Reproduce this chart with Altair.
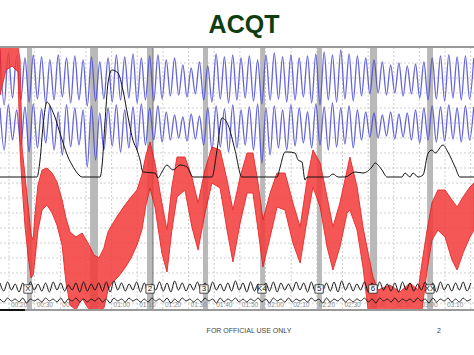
import altair as alt
import pandas as pd

# ---------------- data ----------------
title_text = "ACQT"
footer_text = "FOR OFFICIAL USE ONLY"
page_no = "2"

tick_times = [20, 30, 40, 50, 60, 70, 80, 90, 100, 110, 120, 130, 140, 150, 160, 170, 180, 190]
tick_labels = ["00:20", "00:30", "00:40", "00:50", "01:00", "01:10", "01:20", "01:30", "01:40",
               "01:50", "02:00", "02:10", "02:20", "02:30", "02:40", "02:50", "03:00", "03:10"]
grid_times = [20, 30, 40, 50, 60, 70, 80, 90, 100, 110, 120, 130, 140, 150, 160, 170, 180, 190, 200]
grid_levels = [63, 78, 93, 108, 123, 138, 153, 168, 183, 198, 213, 228, 243, 258, 273, 288, 303]

band_start = [27.0, 51.6, 73.8, 95.6, 117.9, 140.1, 160.7, 183.0]
band_end = [29.0, 54.7, 75.8, 97.6, 119.8, 142.0, 163.5, 185.3]
marker_times = [76.1]
question_times = [27.4, 75.0, 96.0, 118.6, 140.9, 161.9, 184.1]
question_labels = ["X", "2", "3", "K4", "5", "6", "XX"]

# pneumo (blue) traces: alternating peak / trough levels, one breath every 3.24 s
blue_t0 = 16.5
blue_half = 1.62
upper_peaks = [50, 53, 56, 58, 55, 57, 60, 55, 58, 56, 60, 57, 62, 58, 55, 57, 54, 58, 56, 55,
               60, 58, 65, 68, 62, 66, 54, 57, 55, 58, 56, 60, 55, 53, 57, 55, 58, 56, 54, 52,
               55, 50, 54, 56, 58, 60, 62, 65, 63, 66, 64, 62, 58, 56, 55, 57, 56, 58]
upper_troughs = [105, 98, 100, 102, 99, 104, 100, 97, 103, 100, 106, 101, 99, 102, 100, 98, 103, 100,
                 101, 99, 96, 95, 97, 94, 100, 102, 99, 103, 100, 98, 101, 104, 100, 99, 102, 100,
                 97, 103, 105, 100, 102, 99, 101, 96, 94, 93, 95, 93, 96, 94, 98, 100, 99, 101,
                 98, 100, 99]
lower_peaks = [108, 105, 110, 107, 104, 109, 106, 112, 105, 108, 110, 106, 113, 108, 105, 110, 107,
               104, 108, 106, 112, 115, 117, 114, 116, 108, 106, 109, 105, 110, 107, 104, 108, 106,
               110, 105, 108, 112, 104, 107, 103, 108, 106, 110, 112, 113, 115, 112, 114, 113, 110,
               108, 106, 107, 105, 108, 106, 107]
lower_troughs = [150, 140, 145, 152, 148, 143, 150, 155, 147, 145, 167, 160, 150, 146, 152, 148, 150,
                 145, 140, 142, 140, 138, 141, 139, 145, 150, 147, 152, 148, 145, 150, 163, 155, 148,
                 150, 146, 143, 148, 145, 150, 147, 144, 148, 140, 137, 138, 136, 139, 137, 140, 143,
                 140, 142, 141, 139, 142, 140]

# cardio (red) band: time, upper and lower edge
red_t = [16.5, 18.8, 21.2, 23.5, 24.3, 25.1, 26.2, 27.4, 28.6, 29.4, 30.1, 31.3, 32.9, 34.8, 36.8,
         38.7, 40.7, 42.2, 43.8, 46.1, 48.5, 50.8, 53.1, 55.1, 57.0, 58.6, 60.1, 62.5, 65.2, 67.6,
         69.9, 71.8, 73.4, 75.0, 76.9, 79.6, 81.6, 83.5, 85.5, 88.6, 91.3, 93.7, 96.4, 99.1, 102.3,
         105.0, 107.3, 110.1, 112.8, 115.1, 117.1, 119.0, 121.8, 124.5, 127.6, 130.7, 133.5, 136.2,
         138.5, 141.3, 144.0, 146.3, 149.0, 151.8, 152.9, 155.7, 158.0, 160.0, 161.9, 163.9, 168.5,
         172.4, 176.3, 179.5, 181.0, 183.0, 184.9, 187.2, 190.0, 192.7, 194.7, 197.0, 199.7, 201.3]
red_top = [47, 47, 47, 47, 60, 148, 175, 205, 235, 240, 215, 185, 170, 168, 173,
           182, 200, 218, 232, 237, 233, 243, 255, 258, 248, 232, 225, 215, 205, 197,
           190, 175, 155, 142, 163, 203, 230, 187, 157, 157, 177, 203, 170, 147, 150,
           180, 210, 177, 153, 153, 183, 220, 193, 173, 173, 203, 227, 180,
           150, 163, 197, 227, 203, 170, 157, 187, 227, 253, 277, 290, 285,
           292, 283, 290, 263, 230, 203, 190, 190, 200, 207, 197, 187, 183]
red_bottom = [95, 70, 66, 72, 150, 185, 225, 255, 278, 275, 260, 230, 210, 205, 213,
              225, 245, 282, 305, 310, 298, 308, 310, 310, 308, 290, 283, 277, 268, 258,
              245, 230, 205, 188, 207, 253, 272, 230, 197, 190, 227, 250, 213, 183, 188,
              230, 262, 223, 193, 193, 230, 267, 237, 207, 210, 243, 263, 220,
              187, 207, 247, 270, 247, 213, 210, 230, 267, 310, 310, 310, 310,
              310, 310, 310, 310, 270, 240, 230, 237, 260, 270, 253, 237, 230]

# electrodermal (black) trace
eda_t = [16.5, 30.9, 32.1, 33.3, 34.8, 36.4, 37.9, 39.5, 41.1, 43.0, 44.6, 46.9, 48.5, 55.5, 56.3,
         57.4, 58.6, 60.1, 62.5, 64.4, 66.4, 68.3, 69.9, 71.1, 72.2, 76.9, 78.1, 79.6, 81.6, 83.9,
         86.7, 89.4, 91.7, 99.1, 101.1, 103.0, 105.4, 108.1, 110.8, 124.5, 125.7, 127.6, 128.8,
         131.5, 132.7, 134.2, 135.4, 136.2, 144.4, 146.3, 148.3, 151.0, 154.9, 158.0, 161.5, 162.7,
         165.4, 167.4, 173.2, 174.4, 176.3, 177.5, 179.5, 181.4, 183.4, 184.9, 186.1, 189.2, 191.1,
         193.9, 195.8, 201.3]
eda_v = [177, 177, 160, 125, 102, 108, 117, 130, 143, 157, 165, 174, 177, 177, 165,
         123, 83, 70, 73, 90, 117, 140, 150, 160, 172, 173, 178, 172, 165, 170,
         165, 167, 177, 177, 150, 118, 125, 150, 177, 177, 167, 152, 152,
         153, 160, 162, 180, 177, 177, 174, 177, 177, 172, 173, 167, 163,
         170, 177, 177, 173, 177, 173, 177, 175, 153, 150, 153, 145, 152,
         167, 177, 177]

# two lower black traces: alternating peak / trough levels every 1.48 s
bot_t0 = 16.5
bot_half = 1.48
trace_a_peaks = [283, 282, 284, 283, 282, 284, 283, 282, 283, 285,
                 283, 282, 284, 283, 282, 281, 283, 284, 282, 283,
                 284, 282, 283, 281, 283, 284, 282, 283, 282, 284,
                 283, 281, 283, 282, 284, 283, 282, 283, 284, 282,
                 283, 282, 284, 283, 282, 281, 283, 284, 282, 283,
                 282, 284, 283, 282, 283, 284, 282, 283, 282, 284,
                 283, 282, 283]
trace_a_troughs = [291, 290, 292, 291, 290, 291, 292, 290, 291, 290,
                   292, 291, 290, 291, 292, 290, 291, 290, 292, 291,
                   290, 291, 292, 290, 291, 290, 291, 292, 290, 291,
                   291, 290, 292, 291, 290, 291, 292, 290, 291, 290,
                   292, 291, 290, 291, 292, 290, 291, 290, 292, 291,
                   290, 291, 292, 290, 291, 290, 291, 292, 290, 291,
                   290, 291]
trace_b_peaks = [299, 298, 299, 298, 299, 299, 298, 299, 298, 299,
                 298, 299, 299, 298, 299, 298, 299, 298, 299, 299,
                 298, 299, 298, 299, 298, 299, 299, 298, 299, 298,
                 299, 298, 299, 299, 298, 299, 298, 299, 298, 299,
                 299, 298, 299, 298, 299, 298, 299, 299, 298, 299,
                 298, 299, 298, 299, 299, 298, 299, 298, 299, 298,
                 299, 298, 299]
trace_b_troughs = [302, 301, 302, 303, 301, 302, 301, 302, 303, 301,
                   302, 302, 301, 302, 303, 301, 302, 301, 302, 302,
                   301, 302, 303, 302, 301, 302, 302, 301, 303, 302,
                   301, 302, 302, 301, 302, 303, 301, 302, 302, 301,
                   302, 301, 303, 302, 301, 302, 302, 301, 302, 303,
                   301, 302, 302, 301, 302, 301, 303, 302, 301, 302,
                   302, 301]


def wave(t0, step, peaks, troughs):
    vals = []
    for i, p in enumerate(peaks):
        vals.append(p)
        if i < len(troughs):
            vals.append(troughs[i])
    return pd.DataFrame({"t": [t0 + k * step for k in range(len(vals))], "v": vals})


upper_df = wave(blue_t0, blue_half, upper_peaks, upper_troughs)
lower_df = wave(blue_t0, blue_half, lower_peaks, lower_troughs)
a_df = wave(bot_t0, bot_half, trace_a_peaks, trace_a_troughs)
b_df = wave(bot_t0, bot_half, trace_b_peaks, trace_b_troughs)
red_df = pd.DataFrame({"t": red_t, "top": red_top, "bottom": red_bottom})
eda_df = pd.DataFrame({"t": eda_t, "v": eda_v})
q_df = pd.DataFrame({"t": question_times, "lab": question_labels})

W, H = 474, 263
xs = alt.Scale(domain=[16.49, 201.28], nice=False, zero=False)
ys = alt.Scale(domain=[47, 310], reverse=True, nice=False, zero=False)
X = lambda f: alt.X(f, type="quantitative", scale=xs, axis=None)
Y = lambda f: alt.Y(f, type="quantitative", scale=ys, axis=None)

hgrid = alt.Chart(pd.DataFrame({"v": grid_levels})).mark_rule(
    color="#cfcfcf", strokeDash=[2, 2], strokeWidth=1).encode(y=Y("v"))
vgrid = alt.Chart(pd.DataFrame({"t": grid_times})).mark_rule(
    color="#cfcfcf", strokeDash=[2, 2], strokeWidth=1).encode(x=X("t"))
bands = alt.Chart(pd.DataFrame({"t0": band_start, "t1": band_end})).mark_rect(
    color="#b9b9b9").encode(x=X("t0"), x2="t1")
markers = alt.Chart(pd.DataFrame({"t": marker_times})).mark_rule(
    color="#555555", strokeWidth=1).encode(x=X("t"))
ticks = alt.Chart(pd.DataFrame({"t": tick_times, "lab": tick_labels})).mark_text(
    align="left", baseline="middle", dx=2, fontSize=6.5, font="Liberation Sans", color="#8a8a8a"
).encode(x=X("t"), y=alt.value(258), text="lab:N")

blue_u = alt.Chart(upper_df).mark_line(color="#4a4ad2", strokeWidth=1.3, interpolate="monotone",
                                       opacity=0.85).encode(x=X("t"), y=Y("v"))
blue_l = alt.Chart(lower_df).mark_line(color="#4a4ad2", strokeWidth=1.3, interpolate="monotone",
                                       opacity=0.85).encode(x=X("t"), y=Y("v"))
red = alt.Chart(red_df).mark_area(color="#f43a3a", opacity=0.85, clip=True,
                                  stroke="#e51212", strokeWidth=1).encode(
    x=X("t"), y=Y("top"), y2="bottom")
eda = alt.Chart(eda_df).mark_line(color="#111111", strokeWidth=1, interpolate="monotone").encode(
    x=X("t"), y=Y("v"))
tr_a = alt.Chart(a_df).mark_line(color="#111111", strokeWidth=1, interpolate="monotone").encode(
    x=X("t"), y=Y("v"))
tr_b = alt.Chart(b_df).mark_line(color="#111111", strokeWidth=0.9, interpolate="monotone").encode(
    x=X("t"), y=Y("v"))
qbox = alt.Chart(q_df).mark_point(shape="square", filled=True, fill="white", stroke="#222222",
                                  strokeWidth=0.8, opacity=1, size=70).encode(
    x=X("t"), y=alt.value(242))
qlab = alt.Chart(q_df).mark_text(
    fontSize=8, font="Liberation Sans", color="#111111", baseline="middle"
).encode(x=X("t"), y=alt.value(242), text="lab:N")

top_border = alt.Chart(pd.DataFrame({"a": [0]})).mark_rule(color="#9a9a9a", strokeWidth=2).encode(
    x=alt.value(0), x2=alt.value(W), y=alt.value(0))
bot_border = alt.Chart(pd.DataFrame({"a": [0]})).mark_rule(color="#9a9a9a", strokeWidth=2).encode(
    x=alt.value(0), x2=alt.value(W), y=alt.value(H))
bot_seg = alt.Chart(pd.DataFrame({"a": [0]})).mark_rule(color="#111111", strokeWidth=2).encode(
    x=alt.value(0), x2=alt.value(25), y=alt.value(H))

title = alt.Chart(pd.DataFrame({"s": [title_text]})).mark_text(
    fontSize=25, fontWeight="bold", font="Liberation Sans", color="#0f3d12", baseline="alphabetic"
).encode(text="s:N", x=alt.value(244), y=alt.value(-14))
footer = alt.Chart(pd.DataFrame({"s": [footer_text]})).mark_text(
    fontSize=7, font="Liberation Sans", color="#444444", baseline="alphabetic"
).encode(text="s:N", x=alt.value(249), y=alt.value(286))
page = alt.Chart(pd.DataFrame({"s": [page_no]})).mark_text(
    fontSize=7, font="Liberation Sans", color="#444444", baseline="alphabetic"
).encode(text="s:N", x=alt.value(439), y=alt.value(286))

chart = alt.layer(
    hgrid, vgrid, bands, markers, ticks, blue_u, blue_l, red, eda, tr_a, tr_b, qbox, qlab,
    top_border, bot_border, bot_seg, title, footer, page
).properties(
    width=W, height=H,
    padding={"left": 0, "right": 0, "top": 47, "bottom": 45},
    autosize=alt.AutoSizeParams(type="none"),
    background="white",
).configure_view(stroke=None)

chart.save("out.html", embed_options={"renderer": "svg", "actions": False})
